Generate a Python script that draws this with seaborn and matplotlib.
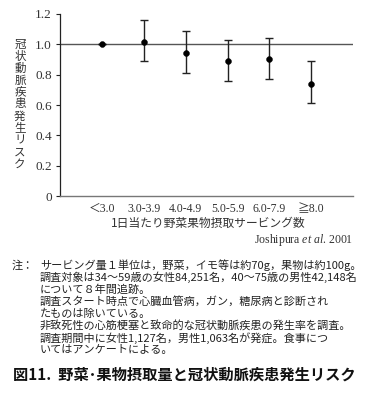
import matplotlib
matplotlib.use("Agg")
import matplotlib.pyplot as plt
import seaborn as sns
import pandas as pd

# ─── Data ────────────────────────────────────────────────────────────────────
servings = ["＜3.0", "3.0-3.9", "4.0-4.9", "5.0-5.9", "6.0-7.9", "≧8.0"]
risk = [1.00, 1.015, 0.94, 0.89, 0.90, 0.74]
ci_low = [1.00, 0.89, 0.81, 0.76, 0.77, 0.61]
ci_high = [1.00, 1.16, 1.09, 1.03, 1.04, 0.89]
y_ticks = [0, 0.2, 0.4, 0.6, 0.8, 1.0, 1.2]
y_tick_labels = ["0", "0.2", "0.4", "0.6", "0.8", "1.0", "1.2"]

ylabel = "冠状動脈疾患発生リスク"
xlabel = "1日当たり野菜果物摂取サービング数"
notes = [
    "サービング量１単位は，野菜，イモ等は約70g，果物は約100g。",
    "調査対象は34～59歳の女性84,251名，40～75歳の男性42,148名",
    "について８年間追跡。",
    "調査スタート時点で心臓血管病，ガン，糖尿病と診断され",
    "たものは除いている。",
    "非致死性の心筋梗塞と致命的な冠状動脈疾患の発生率を調査。",
    "調査期間中に女性1,127名，男性1,063名が発症。食事につ",
    "いてはアンケートによる。",
]
title = "図11.  野菜･果物摂取量と冠状動脈疾患発生リスク"

df = pd.DataFrame({"servings": servings, "risk": risk,
                   "lo": ci_low, "hi": ci_high})

sns.set_theme(style="ticks")
plt.rcParams["font.family"] = ["Noto Sans CJK JP", "DejaVu Sans"]
plt.rcParams["mathtext.fontset"] = "custom"
plt.rcParams["mathtext.rm"] = "Liberation Serif"
plt.rcParams["mathtext.it"] = "Liberation Serif:italic"
SERIF = ["Liberation Serif", "Noto Sans CJK JP"]
INK = "#222222"

fig = plt.figure(figsize=(3.76, 4.11), dpi=100)
ax = fig.add_axes([0.16, 0.523, 0.779, 0.443])

ax.axhline(1.0, color="#555555", lw=1.0, zorder=1)
ax.errorbar(df["servings"], df["risk"],
            yerr=[df["risk"] - df["lo"], df["hi"] - df["risk"]],
            fmt="none", ecolor=INK, elinewidth=1.0, capsize=3, capthick=1.0,
            zorder=2)
sns.scatterplot(data=df, x="servings", y="risk", ax=ax, color="black",
                s=18, edgecolor="black", zorder=3, legend=False)

ax.set_xlim(-1, len(servings))
ax.set_ylim(0, 1.2)
ax.set_yticks(y_ticks)
ax.set_yticklabels(y_tick_labels, family=SERIF, fontsize=9.5, color="#333333")
ax.set_xticks(range(len(servings)))
ax.set_xticklabels(servings, family=SERIF, fontsize=8.5, color="#333333")
ax.tick_params(axis="x", length=0, pad=5)
ax.tick_params(axis="y", length=3, width=0.8, color=INK, pad=3)
ax.set_xlabel("")
ax.set_ylabel("")
sns.despine(ax=ax)
ax.spines["left"].set_color(INK)
ax.spines["left"].set_linewidth(0.9)
ax.spines["bottom"].set_color("#777777")
ax.spines["bottom"].set_linewidth(1.0)

# vertical y label: one character per row, about 12 px apart
H = 411
for i, ch in enumerate(ylabel):
    fig.text(0.053, 1 - (44 + 12 * i) / H, ch, ha="center", va="center",
             fontsize=8.3, color="#333333")

fig.text(0.555, 0.457, xlabel, ha="center", va="center",
         fontsize=8.5, color="#333333")
fig.text(0.94, 0.416, "Joshipura $\\it{et\\ al}$. 2001", ha="right",
         va="center", fontsize=8.5, family=SERIF, color="#333333")

# notes
fig.text(0.03, 0.355, "注：", ha="left", va="center", fontsize=8,
         color="#222222")
for i, line in enumerate(notes):
    fig.text(0.106, 0.355 - i * 0.0295, line,
             ha="left", va="center", fontsize=8, color="#222222")

fig.text(0.035, 0.088, title, ha="left", va="center", fontsize=11,
         fontweight="semibold", color="#111111")

fig.savefig("out.png", dpi=100)
